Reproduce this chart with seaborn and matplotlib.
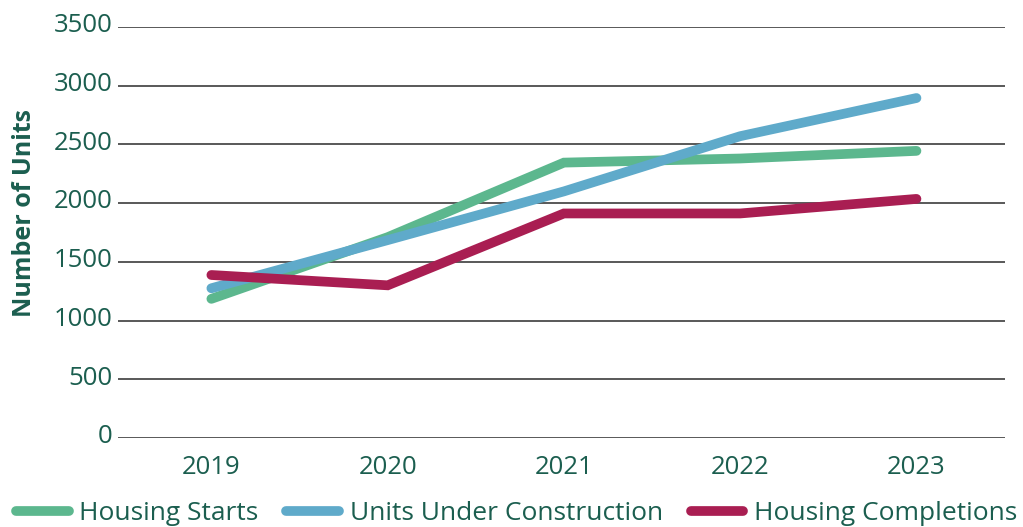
import numpy as np
import pandas as pd
import seaborn as sns
import matplotlib.pyplot as plt
import matplotlib.transforms as mtransforms
from matplotlib.lines import Line2D

sns.set_theme(style="white")
plt.rcParams["font.family"] = ["Open Sans", "DejaVu Sans"]

years = ["2019", "2020", "2021", "2022", "2023"]
starts = [1185, 1710, 2345, 2380, 2445]
under_construction = [1275, 1685, 2100, 2570, 2895]
completions = [1388, 1300, 1912, 1912, 2036]
series_names = ["Housing Starts", "Units Under Construction", "Housing Completions"]
colors = ["#5cb78e", "#5faaca", "#a91e52"]
text_color = "#1b5e4f"

df = pd.DataFrame({
    "year": years * 3,
    "units": starts + under_construction + completions,
    "series": np.repeat(series_names, len(years)),
})

fig = plt.figure(figsize=(10.23, 5.27), dpi=100)
ax = fig.add_axes([0.1153, 0.1689, 0.8667, 0.7799])

sns.lineplot(data=df, x="year", y="units", hue="series", hue_order=series_names,
             palette=colors, linewidth=7, solid_capstyle="round",
             solid_joinstyle="miter", sort=False, legend=False, ax=ax)

ax.set_ylim(0, 3500)
ax.set_xlim(-0.53, 4.5)
ax.set_yticks(np.arange(0, 3501, 500))
ax.yaxis.grid(True, color="#2b2b2b", linewidth=1.1)
ax.xaxis.grid(False)
for s in ax.spines.values():
    s.set_visible(False)
ax.tick_params(axis="both", length=0, labelsize=18.5, labelcolor=text_color)
ax.tick_params(axis="y", pad=4)
ax.tick_params(axis="x", pad=12)

# y tick labels sit slightly above their gridlines
offset = mtransforms.ScaledTranslation(0, 3 / 72, fig.dpi_scale_trans)
for lab in ax.get_yticklabels():
    lab.set_transform(lab.get_transform() + offset)

ax.set_xlabel("")
ax.set_ylabel("Number of Units", fontsize=18, fontweight="bold", color=text_color)
ax.yaxis.set_label_coords(-0.091, 0.547)

handles = [Line2D([0], [0], color=c, linewidth=7, solid_capstyle="round") for c in colors]
fig.legend(handles, series_names, loc="center", bbox_to_anchor=(0.505, 0.026),
           ncol=3, frameon=False, fontsize=19, labelcolor=text_color,
           handlelength=2.0, handletextpad=0.4, columnspacing=1.05,
           borderpad=0, borderaxespad=0)

fig.savefig("out.png", dpi=100)
